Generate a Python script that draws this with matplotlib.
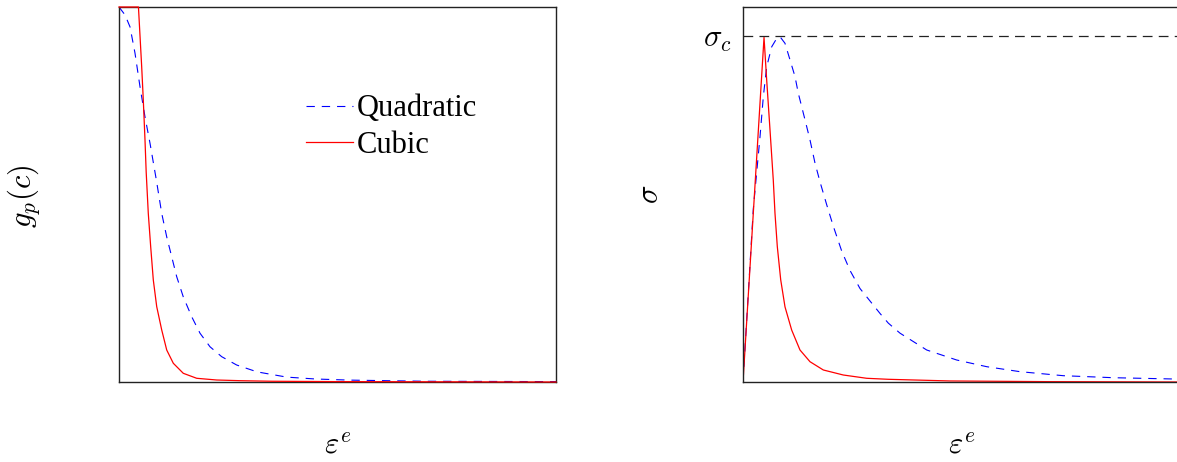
import numpy as np
import matplotlib
matplotlib.use("Agg")
import matplotlib.pyplot as plt

plt.rcParams['font.family'] = ['Liberation Serif', 'DejaVu Serif']
plt.rcParams['mathtext.fontset'] = 'cm'
plt.rcParams['lines.scale_dashes'] = False

# degradation function g_p(c) against elastic strain (normalised axes)
eps_quad_g = [0.0, 0.0137, 0.0252, 0.0366, 0.0481, 0.0595, 0.0709, 0.0854,
              0.0977, 0.1092, 0.1206, 0.1320, 0.1471, 0.1664, 0.1854, 0.2082,
              0.2350, 0.2693, 0.316, 0.384, 0.45, 0.529, 0.70, 1.0]
g_quad = [1.0, 0.979, 0.947, 0.877, 0.787, 0.707, 0.637, 0.539,
          0.450, 0.387, 0.334, 0.281, 0.227, 0.174, 0.130, 0.094,
          0.0675, 0.0453, 0.027, 0.013, 0.008, 0.005, 0.002, 0.001]

eps_cub_g = [0.0, 0.0445, 0.0519, 0.0556, 0.0595, 0.0622, 0.0670, 0.0725,
             0.0785, 0.0863, 0.0977, 0.1092, 0.1243, 0.1471, 0.1778, 0.2236,
             0.2769, 0.35, 0.5, 1.0]
g_cub = [1.0, 1.0, 0.841, 0.752, 0.645, 0.560, 0.450, 0.361,
         0.272, 0.201, 0.139, 0.0853, 0.0499, 0.0232, 0.0099, 0.0053,
         0.0035, 0.002, 0.001, 0.0]

# stress response, sigma / sigma_c
eps_quad_s = [0.0, 0.0236, 0.0389, 0.0465, 0.0542, 0.0657, 0.0771, 0.0847,
              0.0961, 0.1076, 0.1190, 0.1265, 0.1343, 0.1419, 0.1533, 0.1648,
              0.1762, 0.1915, 0.2066, 0.2259, 0.2449, 0.2677, 0.2906, 0.3135,
              0.3325, 0.3593, 0.4204, 0.489, 0.5577, 0.6339, 0.733, 0.8474,
              0.985, 1.0]
s_quad = [0.0, 0.50, 0.708, 0.824, 0.910, 0.968, 0.992, 0.997,
          0.978, 0.930, 0.882, 0.834, 0.795, 0.757, 0.699, 0.632,
          0.578, 0.512, 0.450, 0.378, 0.322, 0.270, 0.234, 0.198,
          0.170, 0.141, 0.0924, 0.0635, 0.0442, 0.0298, 0.0182, 0.0124,
          0.0087, 0.0085]

eps_cub_s = [0.0, 0.0481, 0.0542, 0.0618, 0.0693, 0.0732, 0.0785, 0.0863,
             0.0961, 0.1114, 0.1304, 0.1533, 0.1838, 0.2295, 0.2831, 0.3325,
             0.474, 0.70, 1.0]
s_cub = [0.0, 0.995, 0.872, 0.728, 0.583, 0.487, 0.391, 0.295,
         0.217, 0.150, 0.0924, 0.0586, 0.0347, 0.0202, 0.0107, 0.0078,
         0.003, 0.001, 0.0]

sigma_c = 1.0

W, H = 1177, 462
fig = plt.figure(figsize=(W / 100, H / 100), dpi=100)
ax1 = fig.add_axes([119 / W, (H - 382) / H, 437 / W, 375 / H])
ax2 = fig.add_axes([743 / W, (H - 382) / H, 437 / W, 375 / H])

fs = 22
dash = (0, (6.0, 5.0))

ax1.plot(eps_quad_g, g_quad, color='blue', lw=0.8, linestyle=dash, label='Quadratic')
ax1.plot(eps_cub_g, g_cub, color='red', lw=0.9, label='Cubic', clip_on=False, zorder=3)
ax1.set_xlim(0, 1)
ax1.set_ylim(0, 1)
ax1.set_xticks([])
ax1.set_yticks([])
ax1.set_xlabel(r'$\varepsilon^e$', fontsize=fs)
ax1.set_ylabel(r'$g_p(c)$', fontsize=fs)
ax1.xaxis.set_label_coords(0.5, -0.132)
ax1.yaxis.set_label_coords(-0.176, 0.496)
leg = ax1.legend(loc='upper left', bbox_to_anchor=(0.4, 0.80), frameon=False,
                 fontsize=fs, handlelength=1.55, handletextpad=0.1,
                 labelspacing=0.25, borderaxespad=0)

ax2.plot(eps_quad_s, s_quad, color='blue', lw=0.8, linestyle=dash)
ax2.plot(eps_cub_s, s_cub, color='red', lw=0.9)
ax2.axhline(sigma_c, color='#222222', lw=0.9, linestyle=(0, (7.0, 4.5)))
ax2.set_xlim(0, 1)
ax2.set_ylim(0, sigma_c / 0.9235)
ax2.set_xticks([])
ax2.set_yticks([sigma_c])
ax2.set_yticklabels([r'$\sigma_c$'], fontsize=fs)
ax2.tick_params(axis='y', length=0, pad=8)
ax2.set_xlabel(r'$\varepsilon^e$', fontsize=fs)
ax2.set_ylabel(r'$\sigma$', fontsize=fs)
ax2.xaxis.set_label_coords(0.5, -0.132)
ax2.yaxis.set_label_coords(-0.179, 0.50)

for ax in (ax1, ax2):
    for sp in ax.spines.values():
        sp.set_linewidth(1.0)
        sp.set_color('#222222')
ax2.spines['right'].set_visible(False)

fig.savefig('out.png', dpi=100)
